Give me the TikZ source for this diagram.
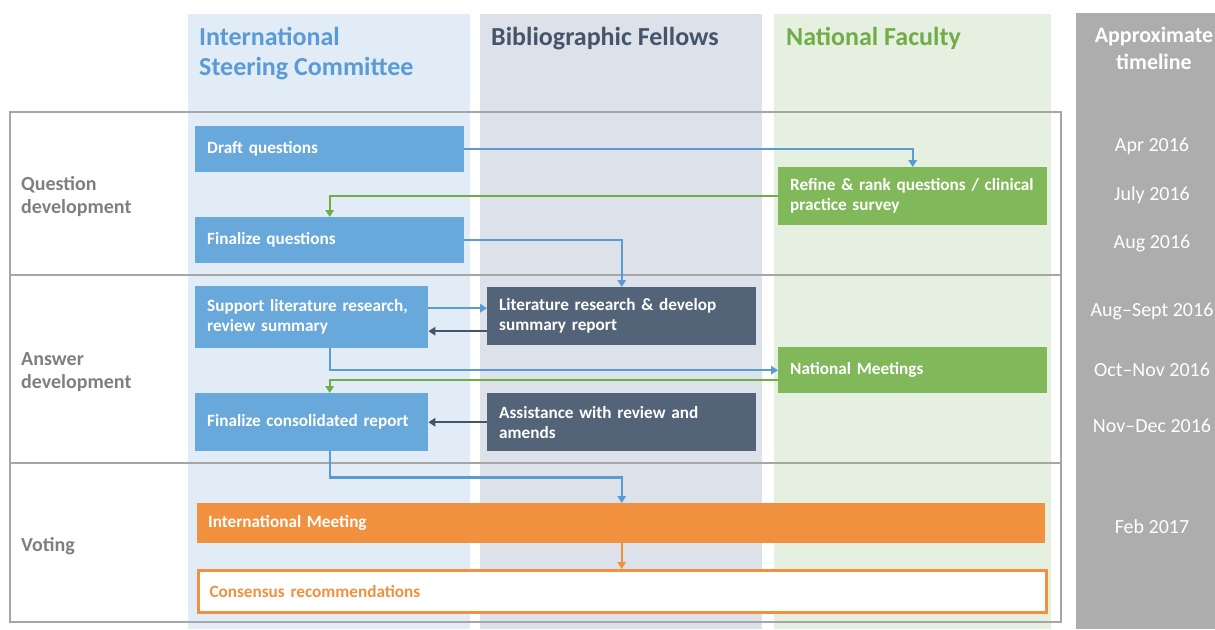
\documentclass[tikz,border=0pt]{standalone}
\usepackage{fontspec}
\setmainfont{Carlito}
\usetikzlibrary{arrows.meta,calc}
\definecolor{bgA}{HTML}{E2ECF7}
\definecolor{bgB}{HTML}{DDE2EA}
\definecolor{bgC}{HTML}{E6F0E0}
\definecolor{tlgrey}{HTML}{ADADAD}
\definecolor{bluebox}{HTML}{69A8DB}
\definecolor{darkbox}{HTML}{536378}
\definecolor{greenbox}{HTML}{80B85A}
\definecolor{orangebox}{HTML}{F1913F}
\definecolor{hblue}{HTML}{5B9BD5}
\definecolor{hdark}{HTML}{44546A}
\definecolor{hgreen}{HTML}{70AD47}
\definecolor{rowgrey}{HTML}{7F7F7F}
\definecolor{framegrey}{HTML}{A6A6A6}
\tikzset{
  box/.style={anchor=north west, inner xsep=12pt, inner ysep=0pt, align=left,
    text=white, font=\bfseries\fontsize{17.2}{20}\selectfont, draw=none},
  hdr/.style={anchor=north west, align=left, inner sep=0pt, font=\bfseries\fontsize{26}{30}\selectfont},
  rowlab/.style={anchor=west, align=left, inner sep=0pt, text=rowgrey, font=\bfseries\fontsize{20}{23}\selectfont},
  tlab/.style={anchor=center, inner sep=0pt, text=white, font=\fontsize{20}{22}\selectfont},
  conn/.style={line width=2.4pt, -{Triangle[width=8.5pt,length=7pt]}},
}
\begin{document}
\begin{tikzpicture}[x=1pt,y=-1pt]
\useasboundingbox (0,0) rectangle (1215,629);
% column backgrounds
\fill[bgA] (188,14) rectangle (470,629);
\fill[bgB] (480,14) rectangle (762,629);
\fill[bgC] (774,14) rectangle (1051,629);
\fill[tlgrey] (1076,13) rectangle (1215,629);
% headers
\node[hdr, text=hblue] (hisc) at (199,27) {International\\Steering Committee};
\node[hdr, text=hdark] (hbf) at (491,27) {Bibliographic Fellows};
\node[hdr, text=hgreen] (hnf) at (786,27) {National Faculty};
\node[anchor=north, align=center, inner sep=0pt, text=white, font=\bfseries\fontsize{22}{27}\selectfont] (htl) at (1154,27) {Approximate\\timeline};
% frame
\draw[framegrey, line width=1.5pt] (10,112) rectangle (1061,622);
\draw[framegrey, line width=1.5pt] (10,275) -- (1061,275);
\draw[framegrey, line width=1.5pt] (10,463) -- (1061,463);
% row labels
\node[rowlab] (r1) at (21,197) {Question\\development};
\node[rowlab] (r2) at (21,372) {Answer\\development};
\node[rowlab] (r3) at (21,546) {Voting};
% timeline
\node[tlab] (t1) at (1152,146) {Apr 2016};
\node[tlab] (t2) at (1152,195) {July 2016};
\node[tlab] (t3) at (1152,243) {Aug 2016};
\node[tlab] (t4) at (1152,311) {Aug--Sept 2016};
\node[tlab] (t5) at (1152,370) {Oct--Nov 2016};
\node[tlab] (t6) at (1152,426) {Nov--Dec 2016};
\node[tlab] (t7) at (1152,527) {Feb 2017};
% boxes
\node[box, fill=bluebox, text width=245pt, minimum height=46pt] (draft) at (195,126) {Draft questions};
\node[box, fill=bluebox, text width=245pt, minimum height=46pt] (finq) at (195,217) {Finalize questions};
\node[box, fill=greenbox, text width=245pt, minimum height=58pt] (refine) at (778,167) {Refine \& rank questions / clinical\\practice survey};
\node[box, fill=bluebox, text width=209pt, minimum height=62pt] (sup) at (195,286) {Support literature research,\\review summary};
\node[box, fill=darkbox, text width=245pt, minimum height=58pt] (lit) at (487,287) {Literature research \& develop\\summary report};
\node[box, fill=greenbox, text width=245pt, minimum height=46pt] (nat) at (778,347) {National Meetings};
\node[box, fill=bluebox, text width=209pt, minimum height=58pt] (fcr) at (195,393) {Finalize consolidated report};
\node[box, fill=darkbox, text width=245pt, minimum height=58pt] (asst) at (487,393) {Assistance with review and\\amends};
\node[box, fill=orangebox, inner xsep=11pt, text width=826pt, minimum height=40pt] (intl) at (197,503) {International Meeting};
\node[box, fill=white, draw=orangebox, line width=3pt, text=orangebox, inner xsep=11pt, text width=826pt, minimum height=42pt] (cons) at (197,569) {Consensus recommendations};
% connectors
\draw[conn, hblue] (draft.east) -| (refine.north);
\draw[conn, hgreen] (refine.west) -| (finq.north);
\draw[conn, hblue] (finq.east) -| (lit.north);
\draw[conn, hblue] ([yshift=9pt]sup.east) -- ([yshift=9pt]sup.east -| lit.west);
\draw[conn, hdark] ([yshift=-15pt]lit.west) -- ([yshift=-15pt]lit.west -| sup.east);
\draw[conn, hblue] (sup.south -| finq.south) |- (nat.west);
\draw[conn, hgreen] ([yshift=-10pt]nat.west) -| (fcr.north -| finq.north);
\draw[conn, hdark] (asst.west) -- (fcr.east);
\coordinate (bend) at ($(fcr.south -| finq.south)+(0,26)$);
\draw[conn, hblue] (fcr.south -| finq.south) -- (bend) -| (intl.north -| lit.north);
\draw[conn, orangebox] (intl.south -| lit.south) -- (cons.north -| lit.south);
\end{tikzpicture}
\end{document}
